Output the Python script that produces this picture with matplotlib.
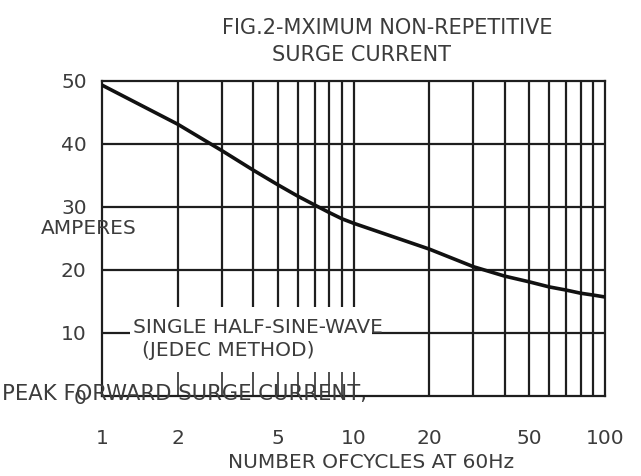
"""Fig.2 surge-current chart: peak forward surge current vs number of cycles at 60 Hz."""
import matplotlib
matplotlib.use("Agg")
import matplotlib.pyplot as plt
from matplotlib.ticker import FixedLocator, NullFormatter

# curve, at the grid-line crossings
cycles = [1, 2, 3, 4, 5, 6, 7, 8, 9, 10, 20, 30, 40, 50, 60, 70, 80, 90, 100]
amps = [49.3, 43.1, 38.9, 35.8, 33.5, 31.7, 30.3, 29.1, 28.1, 27.4,
        23.3, 20.5, 19.0, 18.1, 17.3, 16.8, 16.3, 16.0, 15.7]

x_major = [1, 2, 5, 10, 20, 50, 100]
x_labels = ["1", "2", "5", "10", "20", "50", "100"]
x_minor = [3, 4, 6, 7, 8, 9, 30, 40, 60, 70, 80, 90]
y_ticks = [0, 10, 20, 30, 40, 50]

vgrid_short = [2, 3, 4, 5, 6, 7, 8, 9, 10]      # cut off above the note
vgrid_full = [20, 30, 40, 50, 60, 70, 80, 90]
hgrid_full = [20, 30, 40]

INK = "#1e1e1e"
TXT = "#3c3c3c"
FS = 14.5
plt.rcParams["font.family"] = "DejaVu Sans"

fig = plt.figure(figsize=(6.41, 4.76), dpi=100)
ax = fig.add_axes([102 / 641, 1 - 396 / 476, 503 / 641, 315.3 / 476])
ax.set_xscale("log")
ax.set_xlim(1, 100)
ax.set_ylim(0, 50)

lw = 1.6
ax.vlines(vgrid_short, 14.1, 50, color=INK, lw=lw)
ax.vlines(vgrid_full, 0, 50, color=INK, lw=lw)
ax.hlines(hgrid_full, 1, 100, color=INK, lw=lw)
ax.hlines(10, 1, 1.29, color=INK, lw=lw)
ax.hlines(10, 11.8, 100, color=INK, lw=lw)

ax.plot(cycles, amps, color="#111111", lw=2.6, solid_capstyle="round",
        solid_joinstyle="round", zorder=3)

for s in ax.spines.values():
    s.set_color(INK)
    s.set_linewidth(lw)

ax.xaxis.set_major_locator(FixedLocator(x_major))
ax.xaxis.set_minor_locator(FixedLocator(x_minor))
ax.set_xticklabels(x_labels)
ax.xaxis.set_minor_formatter(NullFormatter())
ax.tick_params(axis="x", which="both", direction="in", length=17, width=1.1,
               color=INK, pad=24, labelsize=FS, labelcolor=TXT)
ax.set_yticks(y_ticks)
ax.tick_params(axis="y", length=0, pad=11, labelsize=FS, labelcolor=TXT)

ax.text(1.33, 10, "SINGLE HALF-SINE-WAVE", fontsize=FS, color=TXT,
        ha="left", va="baseline")
ax.text(1.44, 7.2, "(JEDEC METHOD)", fontsize=FS, color=TXT,
        ha="left", va="center")

fig.text(387 / 641, 1 - 28 / 476, "FIG.2-MXIMUM NON-REPETITIVE", fontsize=15,
         color=TXT, ha="center", va="center")
fig.text(362 / 641, 1 - 55 / 476, "SURGE CURRENT", fontsize=15,
         color=TXT, ha="center", va="center")
fig.text(41 / 641, 1 - 228 / 476, "AMPERES", fontsize=FS, color=TXT,
         ha="left", va="center")
fig.text(2 / 641, 1 - 394 / 476, "PEAK FORWARD SURGE CURRENT,", fontsize=15.2,
         color=TXT, ha="left", va="center", zorder=0)
fig.text(371 / 641, 1 - 463 / 476, "NUMBER OFCYCLES AT 60Hz", fontsize=FS,
         color=TXT, ha="center", va="center")

fig.savefig("out.png", dpi=100)
